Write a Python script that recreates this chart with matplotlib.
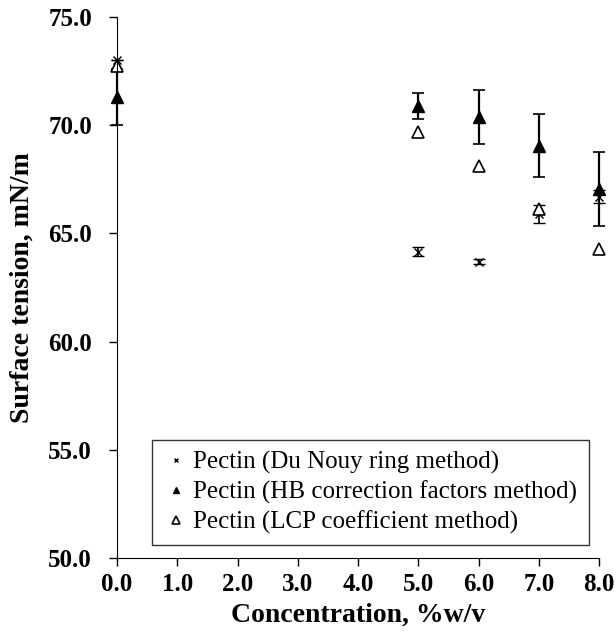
import numpy as np
import matplotlib.pyplot as plt

conc = [0.0, 5.0, 6.0, 7.0, 8.0]

ring = [73.0, 64.15, 63.7, 65.9, 66.7]
ring_err = [0.0, 0.2, 0.1, 0.4, 0.3]

hb = [71.3, 70.9, 70.4, 69.05, 67.05]
hb_err = [1.3, 0.6, 1.25, 1.45, 1.7]

lcp = [72.75, 69.7, 68.1, 66.15, 64.3]

plt.rcParams['font.family'] = ['Liberation Serif', 'DejaVu Serif']

fig = plt.figure(figsize=(6.16, 6.34), dpi=100)
ax = fig.add_axes([0.19, 0.12, 0.7825, 0.853])

ax.errorbar(conc, ring, yerr=ring_err, fmt='none', ecolor='black',
            elinewidth=1.2, capsize=4, clip_on=False)
ax.errorbar(conc, hb, yerr=hb_err, fmt='none', ecolor='black',
            elinewidth=1.6, capsize=4, capthick=1.2, clip_on=False)
h_ring, = ax.plot(conc, ring, 'x', color='black', ms=6, mew=1.0, clip_on=False,
                  label='Pectin (Du Nouy ring method)')
h_hb, = ax.plot(conc, hb, '^', color='black', ms=8, clip_on=False,
                label='Pectin (HB correction factors method)')
h_lcp, = ax.plot(conc, lcp, '^', mfc='white', mec='black', ms=8.5, mew=1.2,
                 clip_on=False, label='Pectin (LCP coefficient method)')

ax.set_xlim(0, 8)
ax.set_ylim(50, 75)
ax.set_xticks(np.arange(0, 9, 1))
ax.set_yticks(np.arange(50, 76, 5))
ax.set_xticklabels([f'{v:.1f}' for v in np.arange(0, 9, 1)])
ax.set_yticklabels([f'{v:.1f}' for v in np.arange(50, 76, 5)])
ax.tick_params(direction='out', length=6, width=1, labelsize=18)
ax.tick_params(axis='x', pad=5)
ax.tick_params(axis='y', pad=12)
for lab in ax.get_xticklabels() + ax.get_yticklabels():
    lab.set_fontweight('bold')

ax.spines['top'].set_visible(False)
ax.spines['right'].set_visible(False)

ax.set_xlabel('Concentration, %w/v', fontsize=20, fontweight='bold', labelpad=5)
ax.set_ylabel('Surface tension, mN/m', fontsize=20, fontweight='bold', labelpad=10)

leg = ax.legend(handles=[h_ring, h_hb, h_lcp], loc='lower left',
                bbox_to_anchor=(0.073, 0.024), borderaxespad=0, fontsize=18,
                frameon=True, fancybox=False, edgecolor='black',
                handletextpad=0.2, handlelength=1.0, borderpad=0.45,
                labelspacing=0.25, markerscale=0.6)
leg.get_frame().set_linewidth(1)

fig.savefig('out.png', dpi=100)
